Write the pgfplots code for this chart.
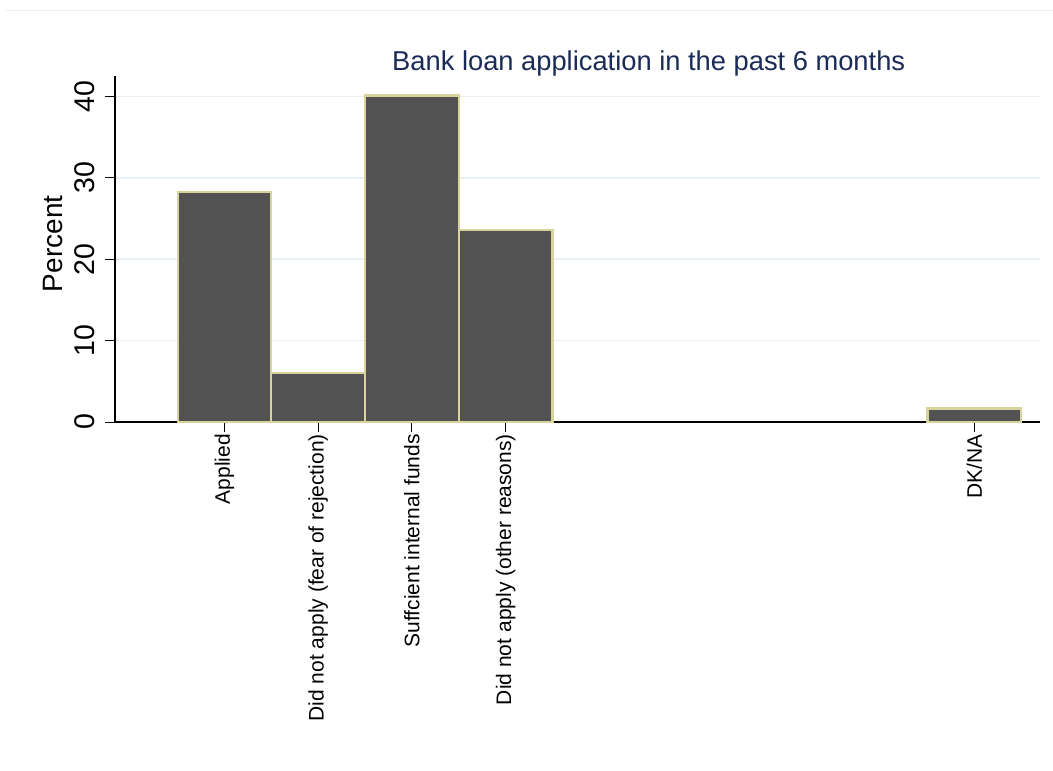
\documentclass[border=0pt]{standalone}
\usepackage{fontspec}
\setmainfont{Liberation Sans}
\usepackage{pgfplots}
\pgfplotsset{compat=1.18}
\definecolor{barfill}{RGB}{82,82,82}
\definecolor{baredge}{RGB}{216,210,155}
\definecolor{gridc}{RGB}{232,240,245}
\definecolor{titlec}{RGB}{26,43,87}
\definecolor{topline}{RGB}{236,239,242}
\begin{document}
\begin{tikzpicture}
\path[use as bounding box] (-115bp,-349bp) rectangle (938bp,422bp);
\draw[line width=1bp, topline] (-110bp,411bp) -- (938bp,411bp);
\begin{axis}[
  scale only axis, width=925bp, height=346bp,
  xmin=-0.168, xmax=9.70, ymin=0, ymax=42.5,
  axis lines=left, axis line style={-, line width=1.1bp, black},
  xtick={1,2,3,4,9},
  xticklabels={Applied, Did not apply (fear of rejection), Suffcient internal funds, Did not apply (other reasons), DK/NA},
  ytick={0,10,20,30,40},
  /pgf/number format/assume math mode=true,
  tick align=outside, major tick length=10bp,
  tick style={black, line width=1bp},
  ymajorgrids, grid style={gridc, line width=1.5bp},
  xticklabel style={rotate=90, anchor=east, inner sep=2bp, font=\fontsize{21bp}{25bp}\selectfont},
  yticklabel style={rotate=90, anchor=south, inner xsep=2bp, inner ysep=10bp, font=\fontsize{28.5bp}{32bp}\selectfont},
  ylabel={Percent},
  ylabel style={at={(axis description cs:-0.053,0.515)}, anchor=south, font=\fontsize{28bp}{32bp}\selectfont},
  clip=false,
]
\addplot[ybar, bar width=1, fill=barfill, draw=baredge, line width=2.2bp] coordinates {(1,28.3) (2,6.0) (3,40.1) (4,23.6) (9,1.65)};
\node[anchor=base, text=titlec, font=\fontsize{27.3bp}{32bp}\selectfont] at (axis description cs:0.577,1.017) {Bank loan application in the past 6 months};
\end{axis}
\end{tikzpicture}
\end{document}
